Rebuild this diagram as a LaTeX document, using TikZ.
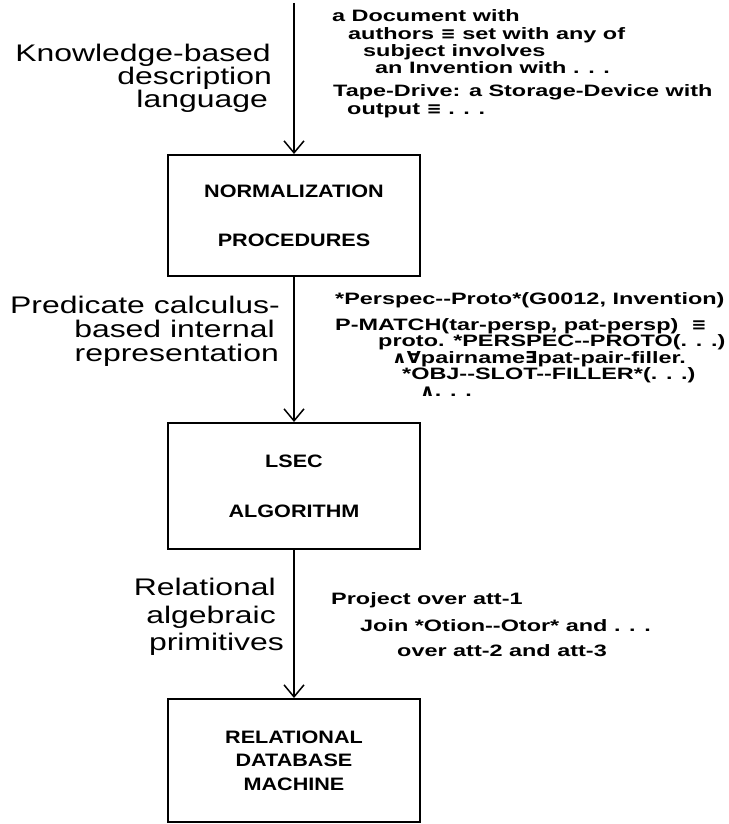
\documentclass[tikz,border=0pt]{standalone}
\usepackage{fontspec}
\setmainfont[FakeStretch=1.33]{Liberation Sans}
\newfontfamily\codefont[FakeStretch=1.42]{Liberation Sans}
\newfontfamily\boxfont[FakeStretch=1.2]{Liberation Sans}
\newfontfamily\symfont[FakeStretch=1.1]{DejaVu Sans}
\usetikzlibrary{arrows.meta}
\tikzset{
  box/.style={draw, line width=2pt, minimum width=252pt, align=center, inner sep=0pt,
              font=\boxfont\fontsize{18}{18}\selectfont\bfseries},
  lbl/.style={anchor=base east, inner sep=0pt, font=\fontsize{24}{24}\selectfont},
  code/.style={anchor=base west, inner sep=0pt, font=\codefont\fontsize{16.5}{16.5}\selectfont\bfseries},
  arr/.style={line width=1.5pt, -{Straight Barb[length=12pt,width=20pt,line width=1.5pt]}}
}
\begin{document}
\begin{tikzpicture}[x=1pt,y=-1pt]
\useasboundingbox (0,0) rectangle (728,824);
% boxes
\node[box, minimum height=121pt] (norm) at (294,215.5)
  {NORMALIZATION\\[31pt]PROCEDURES};
\node[box, minimum height=126pt] (lsec) at (294,486)
  {LSEC\\[32pt]ALGORITHM};
\node[box, minimum height=123pt] (rdbm) at (294,760.5)
  {RELATIONAL\\[5.5pt]DATABASE\\[5.5pt]MACHINE};
% connectors
\coordinate (start) at (294,3);
\draw[arr] (start) -- (norm.north);
\draw[arr] (norm.south) -- (lsec.north);
\draw[arr] (lsec.south) -- (rdbm.north);
% left labels
\node[lbl] (l1a) at (271,62) {Knowledge-based};
\node[lbl] (l1b) at (272,85) {description};
\node[lbl] (l1c) at (268,108) {language};
\node[lbl] (l2a) at (280,313) {Predicate calculus-};
\node[lbl] (l2b) at (275,337) {based internal};
\node[lbl] (l2c) at (279,361) {representation};
\node[lbl] (l3a) at (276,595) {Relational};
\node[lbl] (l3b) at (276,623) {algebraic};
\node[lbl] (l3c) at (284,650) {primitives};
% right text, block 1
\node[code] (c1a) at (332,21.5) {a Document with};
\node[code] (c1b) at (348,39.5) {authors {\symfont ≡} set with any of};
\node[code] (c1c) at (363,56.5) {subject involves};
\node[code] (c1d) at (375,73.5) {an Invention with . . .};
\node[code] (c1e) at (333,96.5) {Tape-Drive: a Storage-Device with};
\node[code] (c1f) at (347,114.5) {output {\symfont ≡} . . .};
% right text, block 2
\node[code] (c2a) at (335,304.5) {*Perspec-{}-Proto*(G0012, Invention)};
\node[code] (c2b) at (335,330) {P-MATCH(tar-persp, pat-persp) \ {\symfont ≡}};
\node[code] (c2c) at (378,346.5) {proto. *PERSPEC-{}-PROTO(. . .)};
\node[code] (c2d) at (392,363) {{\symfont ∧∀}pairname{\symfont ∃}pat-pair-filler.};
\node[code] (c2e) at (402,379.5) {*OBJ-{}-SLOT-{}-FILLER*(. . .)};
\node[code] (c2f) at (420,396) {{\symfont ∧}. . .};
% right text, block 3
\node[code] (c3a) at (331,604.5) {Project over att-1};
\node[code] (c3b) at (360,631.5) {Join *Otion-{}-Otor* and . . .};
\node[code] (c3c) at (397,656.5) {over att-2 and att-3};
\end{tikzpicture}
\end{document}
